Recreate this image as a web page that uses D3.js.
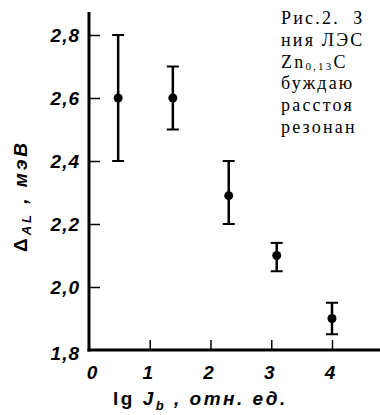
<!DOCTYPE html>
<html>
<head>
<meta charset="utf-8">
<script src="https://cdn.jsdelivr.net/npm/d3@7"></script>
<style>
  html, body { margin: 0; padding: 0; background: #fff; }
  svg { display: block; }
</style>
</head>
<body>
<div id="chart"></div>
<script>
// data
const xValues = [0.48, 1.38, 2.3, 3.09, 4.0]
const yValues = [2.6, 2.6, 2.29, 2.1, 1.9]
const yLow = [2.4, 2.5, 2.2, 2.05, 1.85]
const yHigh = [2.8, 2.7, 2.4, 2.14, 1.95]
const xTicks = [0, 1, 2, 3, 4]
const yTicks = [1.8, 2.0, 2.2, 2.4, 2.6, 2.8]
const captionLines = ['Рис.2.\u00a0\u00a0З', 'ния ЛЭС', 'Zn', 'буждаю', 'расстоя', 'резонан']

const width = 380
const height = 415
const margin = { top: 35, right: 48, bottom: 65, left: 89 }

const svg = d3.select('#chart').append('svg').attr('width', width).attr('height', height)

const xScale = d3.scaleLinear().domain([0, 4]).range([margin.left, width - margin.right])
const yScale = d3.scaleLinear().domain([1.8, 2.8]).range([height - margin.bottom, margin.top])

const labelFont = '"Liberation Sans", Arial, sans-serif'
const fmt = (d) => d3.format('.1f')(d).replace('.', ',')

// x axis (ticks point up, inside)
svg
  .append('g')
  .attr('class', 'x-axis')
  .attr('transform', `translate(0,${yScale(1.8)})`)
  .call(d3.axisTop(xScale).tickValues(xTicks.slice(1)).tickSize(10).tickFormat(''))
  .call((g) => {
    g.select('.domain').remove()
    g.selectAll('.tick line').attr('stroke', '#000').attr('stroke-width', 1.5)
  })
svg
  .append('line')
  .attr('x1', xScale(0) - 1.5)
  .attr('x2', width)
  .attr('y1', yScale(1.8))
  .attr('y2', yScale(1.8))
  .attr('stroke', '#000')
  .attr('stroke-width', 3)

// y axis (ticks point right, inside)
svg
  .append('g')
  .attr('class', 'y-axis')
  .attr('transform', `translate(${xScale(0)},0)`)
  .call(d3.axisRight(yScale).tickValues(yTicks.slice(1)).tickSize(11).tickFormat(''))
  .call((g) => {
    g.select('.domain').remove()
    g.selectAll('.tick line').attr('stroke', '#000').attr('stroke-width', 1.5)
  })
svg
  .append('line')
  .attr('x1', xScale(0))
  .attr('x2', xScale(0))
  .attr('y1', yScale(2.873))
  .attr('y2', yScale(1.8) + 1.5)
  .attr('stroke', '#000')
  .attr('stroke-width', 3)

// tick labels
svg
  .append('g')
  .selectAll('text')
  .data(yTicks)
  .join('text')
  .attr('x', xScale(0) - 9)
  .attr('y', (d) => yScale(d) + (d === 1.8 ? 3 : 0))
  .attr('dy', '0.36em')
  .attr('text-anchor', 'end')
  .attr('font-family', labelFont)
  .attr('font-style', 'italic')
  .attr('font-weight', 'bold')
  .attr('font-size', 19)
  .attr('letter-spacing', 1)
  .attr('fill', '#000')
  .text(fmt)

svg
  .append('g')
  .selectAll('text')
  .data(xTicks)
  .join('text')
  .attr('x', (d) => xScale(d) + (d === 0 ? 3 : -2))
  .attr('y', yScale(1.8) + 29)
  .attr('text-anchor', 'middle')
  .attr('font-family', labelFont)
  .attr('font-style', 'italic')
  .attr('font-weight', 'bold')
  .attr('font-size', 19)
  .attr('fill', '#000')
  .text((d) => d)

// axis titles
const xTitle = svg
  .append('text')
  .attr('x', 113)
  .attr('y', 405)
  .attr('font-family', labelFont)
  .attr('font-style', 'italic')
  .attr('font-weight', 'bold')
  .attr('font-size', 19)
  .attr('letter-spacing', 2.5)
  .attr('fill', '#000')
xTitle.append('tspan').attr('font-style', 'normal').text('lg ')
xTitle.append('tspan').text('J')
xTitle.append('tspan').attr('font-size', 13).attr('dy', 5).text('b')
xTitle.append('tspan').attr('dy', -5).text(' , отн. ед.')

const yTitle = svg
  .append('text')
  .attr('transform', 'translate(27,252) rotate(-90)')
  .attr('font-family', labelFont)
  .attr('font-style', 'italic')
  .attr('font-weight', 'bold')
  .attr('font-size', 19)
  .attr('letter-spacing', 3)
  .attr('fill', '#000')
yTitle.append('tspan').attr('font-style', 'normal').text('Δ')
yTitle.append('tspan').attr('font-size', 13).attr('dy', 4).text('AL')
yTitle.append('tspan').attr('dy', -4).text(' , мэВ')

// error bars
const pts = xValues.map((x, i) => ({ x, y: yValues[i], lo: yLow[i], hi: yHigh[i] }))
const bars = svg.append('g').attr('class', 'errors').attr('stroke', '#000')
bars
  .selectAll('line.stem')
  .data(pts)
  .join('line')
  .attr('class', 'stem')
  .attr('x1', (d) => xScale(d.x))
  .attr('x2', (d) => xScale(d.x))
  .attr('y1', (d) => yScale(d.hi))
  .attr('y2', (d) => yScale(d.lo))
  .attr('stroke-width', 2.5)
pts.forEach((d) => {
  ;[d.hi, d.lo].forEach((v) => {
    bars
      .append('line')
      .attr('x1', xScale(d.x) - 6)
      .attr('x2', xScale(d.x) + 6)
      .attr('y1', yScale(v))
      .attr('y2', yScale(v))
      .attr('stroke-width', 2)
  })
})
svg
  .append('g')
  .selectAll('circle')
  .data(pts)
  .join('circle')
  .attr('cx', (d) => xScale(d.x))
  .attr('cy', (d) => yScale(d.y))
  .attr('r', 4.5)
  .attr('fill', '#000')

// caption (cut off by the page edge)
const caption = svg
  .append('g')
  .attr('font-family', '"Liberation Serif", serif')
  .attr('font-size', 18)
  .attr('letter-spacing', 2.2)
  .attr('fill', '#000')
captionLines.forEach((line, i) => {
  const t = caption
    .append('text')
    .attr('x', 281)
    .attr('y', 24 + i * 21.8)
  if (line === 'Zn') {
    t.append('tspan').text('Zn')
    t.append('tspan').attr('font-size', 11).attr('dy', 2).text('0,13')
    t.append('tspan').attr('dy', -2).text('С')
  } else {
    t.text(line)
  }
})
</script>
</body>
</html>
